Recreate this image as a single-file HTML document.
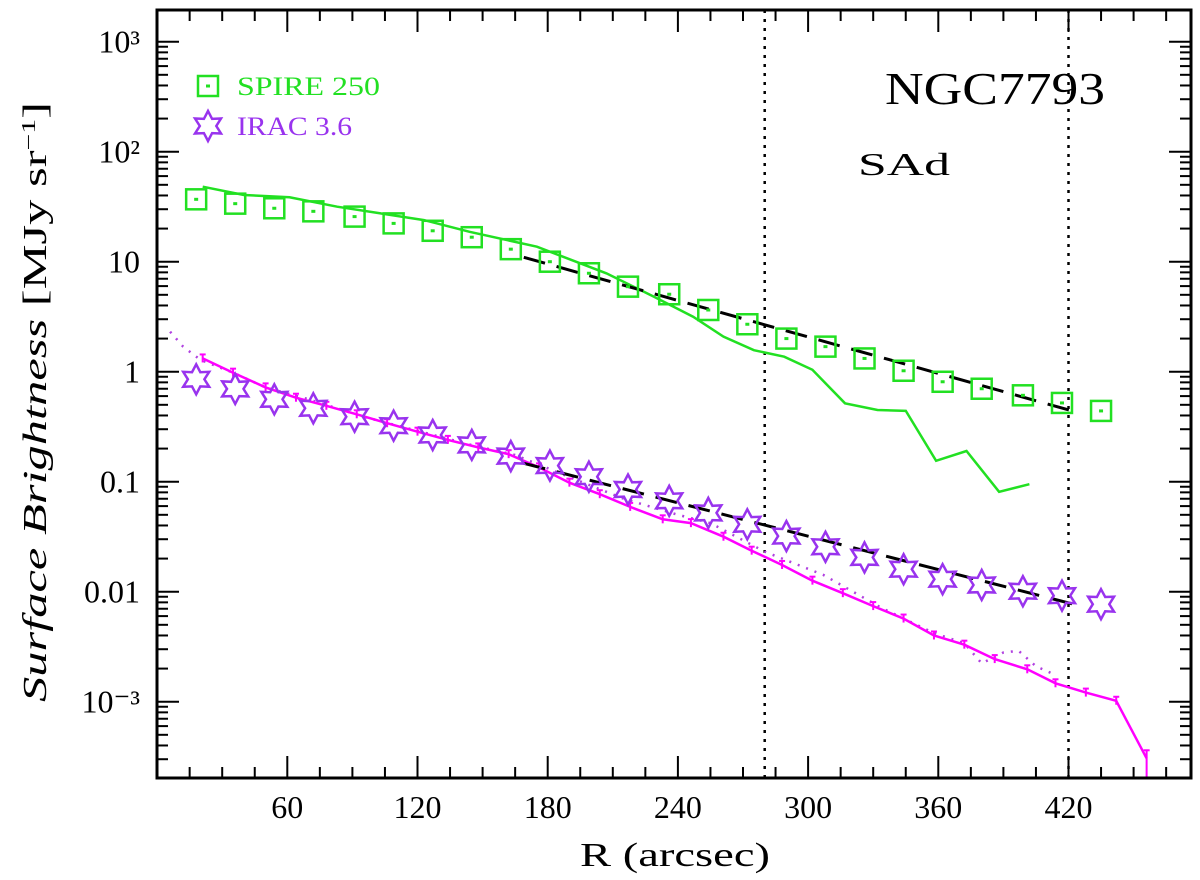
<!DOCTYPE html>
<html><head><meta charset="utf-8">
<style>
html,body{margin:0;padding:0;background:#fff;}
svg{display:block;}
text{font-family:"Liberation Serif",serif;}
</style></head>
<body>
<svg id="chart" width="1200" height="880" viewBox="0 0 1200 880" xmlns="http://www.w3.org/2000/svg">
<g id="grid"></g>
<g id="series"></g>
<g id="axes"></g>
</svg>
<script>
// ---- data ----
const spireR = [18,36,54,72,91,109,127,145,163,181,199,217,236,254,272,290,308,326,344,362,380,399,417,435];
const spireVal = [36.9,33.7,30.6,28.7,25.7,22.3,19.1,16.7,13.0,10.0,7.85,5.93,5.06,3.64,2.70,2.0,1.69,1.32,1.02,0.81,0.70,0.61,0.52,0.44];
const spireLineR = [21,40,61,83,103,123,144,175,187,207,229,247,261,275,289,302,317,332,345,359,373,388,402];
const spireLineVal = [48.1,40.4,38.5,31.6,27.5,23.9,18.7,13.7,11.1,7.85,4.81,3.16,2.08,1.57,1.37,1.04,0.516,0.449,0.44,0.155,0.190,0.081,0.095];
const spireFit = {r0:169, i0:10.97, r1:424.5, h:78.6};
const iracR = [18,36,54,72,91,109,127,145,163,181,199,217,236,254,272,290,308,326,344,362,380,399,417,435];
const iracVal = [0.853,0.697,0.561,0.465,0.390,0.323,0.266,0.216,0.171,0.140,0.111,0.085,0.067,0.052,0.041,0.032,0.0256,0.0205,0.016,0.013,0.0115,0.0101,0.0092,0.0077];
const iracFit = {r0:169, i0:0.147, r1:425, h:85.9};
const irac2R = [21,35,50,64,78,92,106,120,134,148,162,176,190,204,218,233,246,261,274,288,302,316,330,344,358,372,386,401,414,428,442,456];
const irac2Val = [1.32,0.98,0.72,0.58,0.49,0.41,0.34,0.285,0.24,0.205,0.178,0.135,0.098,0.077,0.059,0.0455,0.042,0.0316,0.0236,0.0175,0.0126,0.0097,0.0074,0.0057,0.0040,0.0033,0.00244,0.00197,0.00147,0.00121,0.00102,0.000306];
const irac2DotR = [6,12,20,35,50,70,95,120,145,165,190,215,240,255,280,307,334,358,372,380,390,397,405,414];
const irac2DotVal = [2.31,1.69,1.28,0.98,0.72,0.56,0.39,0.29,0.215,0.175,0.11,0.07,0.05,0.042,0.0231,0.0142,0.0071,0.0042,0.0034,0.00223,0.0028,0.0029,0.0021,0.00175];
const xTicks = [60,120,180,240,300,360,420];
const yTickVals = [1000,100,10,1,0.1,0.01,0.001];
const yTickLabels = ["10³","10²","10","1","0.1","0.01","10⁻³"];
const vLines = [280,420];

// ---- axes ----
const L=157, R=1191, T=10, B=778;
const xScale = r => 157.1 + r*2.17;
const yScale = v => 371.7 - Math.log10(v)*110;
const NS="http://www.w3.org/2000/svg";
function mk(tag, attrs, parent){const e=document.createElementNS(NS,tag);for(const k in attrs)e.setAttribute(k,attrs[k]);parent.appendChild(e);return e;}
const G=document.getElementById('grid'), S=document.getElementById('series'), A=document.getElementById('axes');

const frame=mk('rect',{x:L,y:T,width:R-L,height:B-T,fill:'none',stroke:'#000','stroke-width':3},A);



for(let r=15;r<476;r+=15){
  const x=xScale(r), major=(r%60===0), len=major?22:11;
  mk('line',{x1:x,y1:B,x2:x,y2:B-len,stroke:'#000','stroke-width':2},A);
  mk('line',{x1:x,y1:T,x2:x,y2:T+len,stroke:'#000','stroke-width':2},A);
}
xTicks.forEach(r=>{
  const t=mk('text',{x:xScale(r),y:818,'text-anchor':'middle','font-size':32},A);
  t.textContent=r;
  
  
});
for(let d=-4; d<=3; d++){
  for(let m=1;m<=9;m++){
    const v=m*Math.pow(10,d), y=yScale(v);
    if(y<T||y>B) continue;
    const len=(m===1)?22:11;
    mk('line',{x1:L,y1:y,x2:L+len,y2:y,stroke:'#000','stroke-width':2},A);
    mk('line',{x1:R,y1:y,x2:R-len,y2:y,stroke:'#000','stroke-width':2},A);
  }
}
yTickVals.forEach((v,i)=>{
  const t=mk('text',{x:140,y:yScale(v)+11,'text-anchor':'end','font-size':32},A);
  t.textContent=yTickLabels[i];
  
  
});
const xt=mk('text',{x:675,y:866,'text-anchor':'middle','font-size':34,textLength:190,lengthAdjust:'spacingAndGlyphs'},A);
xt.textContent='R (arcsec)';


const yt=mk('text',{x:0,y:0,'text-anchor':'middle','font-size':34,transform:'translate(46,402) rotate(-90)',textLength:600,lengthAdjust:'spacingAndGlyphs'},A);
yt.innerHTML='<tspan font-style="italic">Surface Brightness</tspan> [MJy sr<tspan baseline-shift="super" font-size="20">−1</tspan>]';



vLines.forEach(r=>{
  const l=mk('line',{x1:xScale(r),y1:T,x2:xScale(r),y2:B,stroke:'#000','stroke-width':2.5,'stroke-dasharray':'3 6'},G);
  
  
});

function poly(rs,vs,attrs,name){
  const pts=rs.map((r,i)=>xScale(r).toFixed(1)+','+yScale(vs[i]).toFixed(1)).join(' ');
  const p=mk('polyline',Object.assign({points:pts,fill:'none'},attrs),S);
  
  
  return p;
}
function fit(f,name){
  const rs=[f.r0,f.r1], vs=[f.i0, f.i0*Math.exp(-(f.r1-f.r0)/f.h)];
  poly(rs,vs,{stroke:'#000','stroke-width':3,'stroke-dasharray':'22 12'},name);
}
poly(spireLineR,spireLineVal,{stroke:'#22e022','stroke-width':2.5},'spire-profile-line');
poly(irac2DotR,irac2DotVal,{stroke:'#b040e0','stroke-width':2.5,'stroke-dasharray':'2 7'},'irac-dotted-profile');
poly(irac2R,irac2Val,{stroke:'#ff00ff','stroke-width':2.5},'irac-solid-profile');
irac2R.forEach((r,i)=>{
  const x=xScale(r), y=yScale(irac2Val[i]);
  const last=(i===irac2R.length-1);
  const y1=last?B:y+4, y0=y-(last?8:4);
  const e=mk('line',{x1:x,y1:y0,x2:x,y2:y1,stroke:'#ff00ff','stroke-width':2},S);
  
  
  mk('line',{x1:x-3,y1:y0,x2:x+3,y2:y0,stroke:'#ff00ff','stroke-width':2},S);
});
fit(spireFit,'spire-fit-line');
fit(iracFit,'irac-fit-line');

function squareAt(x,y,parent,name){
  const g=mk('g',{},parent);
  
  
  mk('rect',{x:x-10,y:y-10,width:20,height:20,fill:'none',stroke:'#22e022','stroke-width':2.5},g);
  mk('rect',{x:x-2,y:y-1.5,width:4,height:3,fill:'#22e022'},g);
}
function starPts(x,y,r){
  const pts=[];
  for(let k=0;k<12;k++){
    const a=-Math.PI/2+k*Math.PI/6, rr=(k%2===0)?r:r*0.55;
    pts.push((x+rr*Math.cos(a)).toFixed(1)+','+(y+rr*Math.sin(a)).toFixed(1));
  }
  return pts.join(' ');
}
function starAt(x,y,parent,name){
  const p=mk('polygon',{points:starPts(x,y,15),fill:'none',stroke:'#9933ee','stroke-width':2.5},parent);
  
  
}
spireR.forEach((r,i)=>squareAt(xScale(r),yScale(spireVal[i]),S,'spire-point'));
iracR.forEach((r,i)=>starAt(xScale(r),yScale(iracVal[i]),S,'irac-point'));

squareAt(208,86,A,'legend-spire-marker');
const l1=mk('text',{x:237,y:95,'font-size':26,fill:'#22e022',textLength:143,lengthAdjust:'spacingAndGlyphs'},A);
l1.textContent='SPIRE 250';


starAt(208,126,A,'legend-irac-marker');
const l2=mk('text',{x:237,y:135,'font-size':26,fill:'#9933ee',textLength:115,lengthAdjust:'spacingAndGlyphs'},A);
l2.textContent='IRAC 3.6';



const ti=mk('text',{x:885,y:104,'font-size':46,textLength:220,lengthAdjust:'spacingAndGlyphs'},A);
ti.textContent='NGC7793';


const ty=mk('text',{x:858,y:175,'font-size':32,textLength:92,lengthAdjust:'spacingAndGlyphs'},A);
ty.textContent='SAd';


</script>
</body></html>
